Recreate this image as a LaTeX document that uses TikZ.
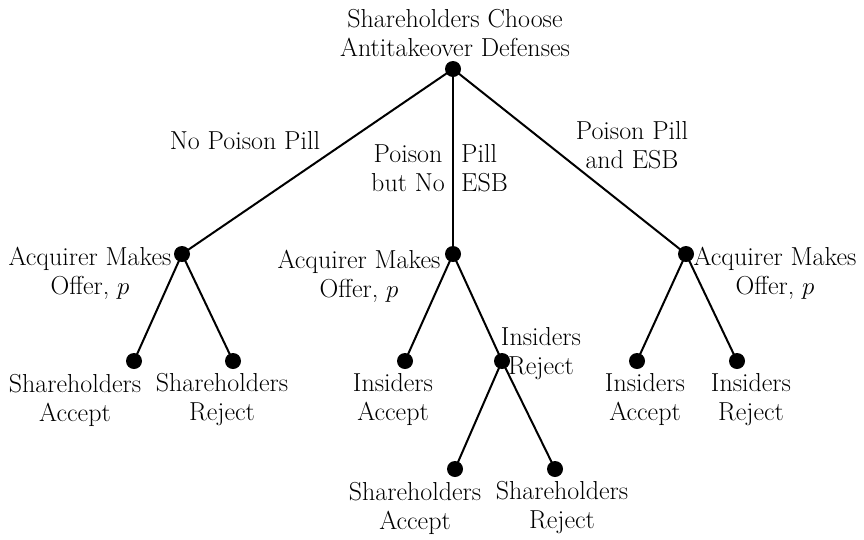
\documentclass[tikz,border=0pt]{standalone}
\usepackage{tikz}
\begin{document}
\begin{tikzpicture}[x=1pt,y=-1pt,
  dot/.style={circle,fill=black,inner sep=0pt,minimum size=16pt},
  lbl/.style={align=center,inner sep=0pt,font=\fontsize{26}{29}\selectfont},
  edge/.style={line width=2pt}]
\useasboundingbox (0,0) rectangle (864,539);
% decision nodes
\node[dot] (root) at (453,69) {};
\node[dot] (L) at (182,254) {};
\node[dot] (M) at (453,254) {};
\node[dot] (R) at (686,254) {};
\node[dot] (LA) at (134,361) {};
\node[dot] (LR) at (233,361) {};
\node[dot] (MA) at (405,361) {};
\node[dot] (MR) at (502,361) {};
\node[dot] (RA) at (637,361) {};
\node[dot] (RR) at (737,361) {};
\node[dot] (BA) at (455,469) {};
\node[dot] (BR) at (555,469) {};
% connectors
\draw[edge] (root.center) -- (L.center);
\draw[edge] (root.center) -- (M.center);
\draw[edge] (root.center) -- (R.center);
\draw[edge] (L.center) -- (LA.center);
\draw[edge] (L.center) -- (LR.center);
\draw[edge] (M.center) -- (MA.center);
\draw[edge] (M.center) -- (MR.center);
\draw[edge] (R.center) -- (RA.center);
\draw[edge] (R.center) -- (RR.center);
\draw[edge] (MR.center) -- (BA.center);
\draw[edge] (MR.center) -- (BR.center);
% labels
\node[lbl] (troot) at (455,33) {Shareholders Choose\\Antitakeover Defenses};
\node[lbl] (tnp) at (245,141) {No Poison Pill};
\node[lbl,anchor=east] (tpp1) at (445,168) {Poison\\but No};
\node[lbl,anchor=west,align=left] (tpp2) at (461,168) {Pill\\ESB};
\node[lbl] (tpe) at (632,145) {Poison Pill\\and ESB};
\node[lbl] (tL) at (90,273) {Acquirer Makes\\Offer, $p$};
\node[lbl] (tM) at (359,276) {Acquirer Makes\\Offer, $p$};
\node[lbl] (tR) at (775,273) {Acquirer Makes\\Offer, $p$};
\node[lbl] (tLA) at (75,400) {Shareholders\\Accept};
\node[lbl] (tLR) at (222,400) {Shareholders\\Reject};
\node[lbl] (tMA) at (393,400) {Insiders\\Accept};
\node[lbl] (tMR) at (541,354) {Insiders\\Reject};
\node[lbl] (tRA) at (645,400) {Insiders\\Accept};
\node[lbl] (tRR) at (751,400) {Insiders\\Reject};
\node[lbl] (tBA) at (415,508) {Shareholders\\Accept};
\node[lbl] (tBR) at (562,508) {Shareholders\\Reject};
\end{tikzpicture}
\end{document}
